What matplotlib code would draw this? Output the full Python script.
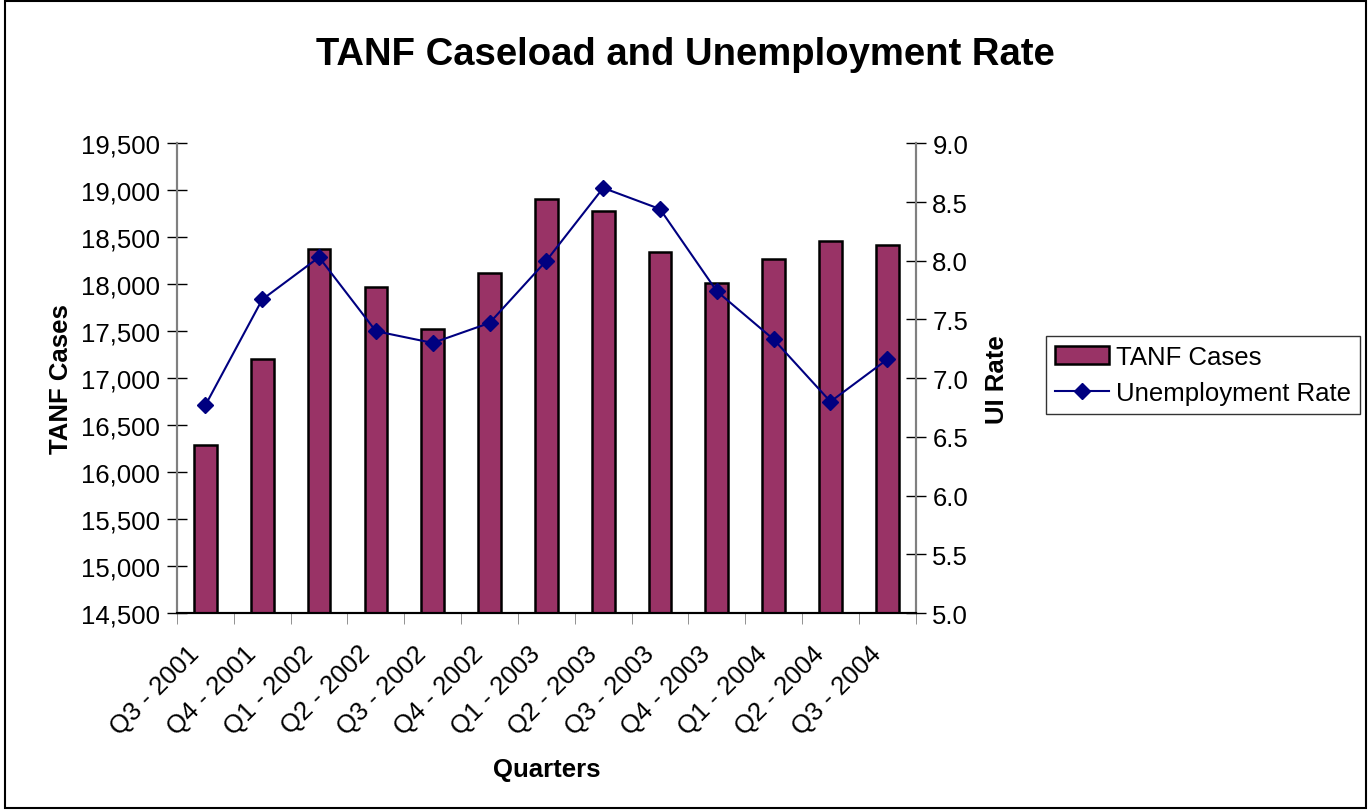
import numpy as np
import matplotlib
matplotlib.use("Agg")
from matplotlib import pyplot as plt
from matplotlib.ticker import FuncFormatter, MultipleLocator, FixedLocator
from matplotlib.patches import Rectangle
from matplotlib.transforms import ScaledTranslation

plt.rcParams['font.family'] = ['Liberation Sans', 'DejaVu Sans']

quarters = ['Q3 - 2001', 'Q4 - 2001', 'Q1 - 2002', 'Q2 - 2002', 'Q3 - 2002',
            'Q4 - 2002', 'Q1 - 2003', 'Q2 - 2003', 'Q3 - 2003', 'Q4 - 2003',
            'Q1 - 2004', 'Q2 - 2004', 'Q3 - 2004']
tanf_cases = [16290, 17205, 18376, 17968, 17524, 18118, 18906,
              18781, 18348, 18011, 18267, 18458, 18416]
ui_rate = [6.77, 7.67, 8.03, 7.40, 7.30, 7.47, 8.00,
           8.62, 8.44, 7.74, 7.33, 6.80, 7.16]

bar_color = '#993366'
line_color = '#000080'
fs = 18.5

fig = plt.figure(figsize=(13.7, 8.12), dpi=100)
ax = fig.add_axes([0.1292, 0.2438, 0.5392, 0.5785])
ax2 = ax.twinx()

x = np.arange(len(quarters))
bars = ax.bar(x, tanf_cases, width=0.4, color=bar_color, edgecolor='black',
              linewidth=1.8, label='TANF Cases', zorder=2)
line, = ax2.plot(x, ui_rate, color=line_color, marker='D', markersize=8,
                 linewidth=1.5, label='Unemployment Rate', zorder=3)

ax.set_xlim(-0.5, len(quarters) - 0.5)
ax.set_ylim(14500, 19500)
ax2.set_ylim(5.0, 9.0)
ax.yaxis.set_major_locator(MultipleLocator(500))
ax2.yaxis.set_major_locator(MultipleLocator(0.5))
ax.yaxis.set_major_formatter(FuncFormatter(lambda v, p: f'{int(v):,}'))
ax2.yaxis.set_major_formatter(FuncFormatter(lambda v, p: f'{v:.1f}'))

# category labels at centres, tick marks at boundaries
ax.set_xticks(x)
ax.tick_params(axis='x', which='major', length=0, pad=26)
ax.xaxis.set_minor_locator(FixedLocator(np.arange(-0.5, len(quarters), 1.0)))
ax.tick_params(axis='x', which='minor', length=8, direction='out', color='#808080')
ax.set_xticklabels(quarters, rotation=45, ha='right', va='center',
                   rotation_mode='anchor', fontsize=fs)
shift = ScaledTranslation(-10 / 100, 0, fig.dpi_scale_trans)
for tick in ax.xaxis.get_major_ticks():
    tick.label1.set_transform(tick.label1.get_transform() + shift)

ax.tick_params(axis='y', labelsize=fs, direction='inout', length=14, width=1, pad=5)
ax2.tick_params(axis='y', labelsize=fs, direction='inout', length=14, width=1, pad=5)

for a in (ax, ax2):
    a.spines['top'].set_visible(False)
    a.spines['left'].set_color('#808080')
    a.spines['right'].set_color('#808080')
    a.spines['bottom'].set_color('black')
    a.spines['left'].set_linewidth(1.5)
    a.spines['right'].set_linewidth(1.5)
    a.spines['bottom'].set_linewidth(1.5)

ax.set_ylabel('TANF Cases', fontsize=fs, fontweight='bold', labelpad=6)
ax2.set_ylabel('UI Rate', fontsize=fs, fontweight='bold', labelpad=12)
ax.set_xlabel('Quarters', fontsize=fs, fontweight='bold', labelpad=13)

fig.text(0.5, 0.932, 'TANF Caseload and Unemployment Rate', ha='center', va='center',
         fontsize=27.5, fontweight='bold')

leg = fig.legend([bars, line], ['TANF Cases', 'Unemployment Rate'],
                 loc='upper left', bbox_to_anchor=(1046 / 1370, 1 - 337 / 812),
                 fontsize=fs, frameon=True, fancybox=False, edgecolor='black',
                 borderpad=0.35, labelspacing=0.45, handlelength=2.1, handletextpad=0.28,
                 borderaxespad=0)
leg.get_frame().set_linewidth(1.0)

fig.patches.append(Rectangle((0.004, 0.004), 0.993, 0.994, transform=fig.transFigure,
                             fill=False, edgecolor='black', linewidth=1.5))

fig.savefig('out.png', dpi=100)
